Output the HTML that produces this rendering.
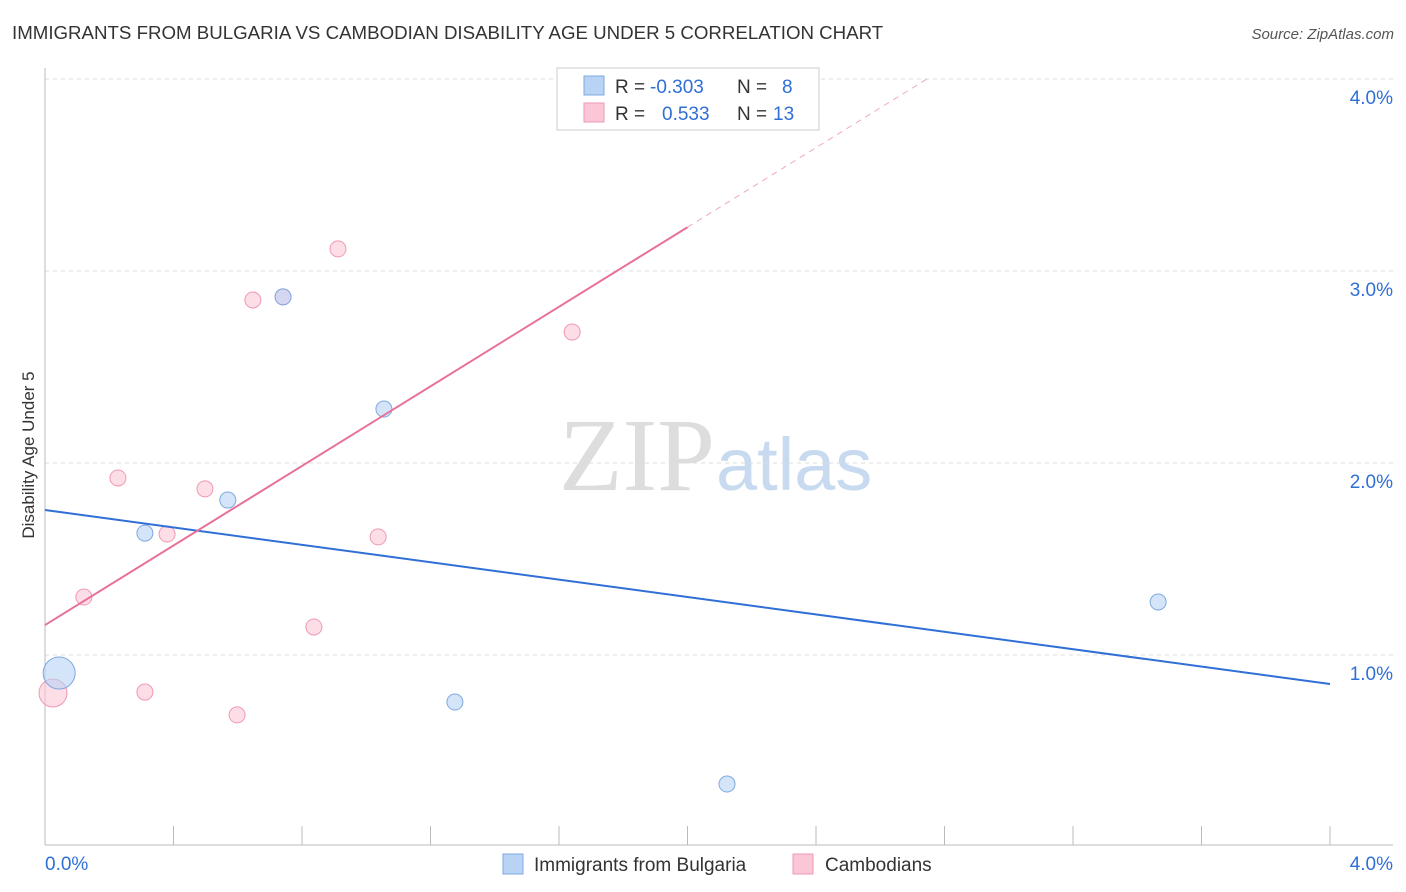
<!DOCTYPE html>
<html><head><meta charset="utf-8"><style>
body{margin:0;background:#fff;font-family:"Liberation Sans",sans-serif;}
svg{display:block}
</style></head><body>
<svg id="c" width="1406" height="892">
<text x="12" y="39" font-size="18.7" fill="#333">IMMIGRANTS FROM BULGARIA VS CAMBODIAN DISABILITY AGE UNDER 5 CORRELATION CHART</text>
<text x="1394" y="39" font-size="15" fill="#555" font-style="italic" text-anchor="end">Source: ZipAtlas.com</text>
<text x="715" y="490" font-size="104" fill="#ddd" text-anchor="end" font-family="Liberation Serif">ZIP</text>
<text x="716" y="490" font-size="74" fill="#c8daf0">atlas</text>
<text transform="translate(34,455) rotate(-90)" font-size="17" fill="#333" text-anchor="middle">Disability Age Under 5</text>
<g id="grid"></g><g id="marks"></g>
<g>
<rect x="557" y="68" width="262" height="62" fill="#fff" stroke="#ccc"/>
<rect x="584" y="76" width="20" height="19" fill="#b9d3f5" stroke="#7fa8e0"/>
<rect x="584" y="103" width="20" height="19" fill="#fbc7d6" stroke="#ee9ab3"/>
<g font-size="19">
<text x="615" y="93" fill="#333">R =</text>
<text x="650" y="93" fill="#2f6fd6">-0.303</text>
<text x="737" y="93" fill="#333">N =</text>
<text x="782" y="93" fill="#2f6fd6">8</text>
<text x="615" y="120" fill="#333">R =</text>
<text x="662" y="120" fill="#2f6fd6">0.533</text>
<text x="737" y="120" fill="#333">N =</text>
<text x="773" y="120" fill="#2f6fd6">13</text>
</g>
</g>
<g>
<rect x="503" y="854" width="20" height="20" fill="#b9d3f5" stroke="#7fa8e0"/>
<text x="534" y="871" font-size="19" fill="#333">Immigrants from Bulgaria</text>
<rect x="793" y="854" width="20" height="20" fill="#fbc7d6" stroke="#ee9ab3"/>
<text x="825" y="871" font-size="19" fill="#333">Cambodians</text>
</g>
</svg>
<script>
const blueX=[0.044,0.311,0.569,0.741,1.055,1.276,2.123,3.465];
const blueY=[0.906,1.635,1.807,2.865,2.281,0.755,0.328,1.276];
const blueR=[16,8,8,8,8,8,8,8];
const pinkX=[0.025,0.121,0.227,0.311,0.380,0.498,0.598,0.647,0.741,0.837,0.912,1.037,1.641];
const pinkY=[0.802,1.302,1.922,0.807,1.630,1.865,0.688,2.849,2.865,1.146,3.115,1.615,2.682];
const pinkR=[14,8,8,8,8,8,8,8,8,8,8,8,8];
const blueTrend=[1.755,-0.2265];
const pinkTrend=[1.156,1.036];
const yTicks=[1,2,3,4];
const yTickLabels=["1.0%","2.0%","3.0%","4.0%"];
const xTicks=[0,0.4,0.8,1.2,1.6,2.0,2.4,2.8,3.2,3.6,4.0];
const NS="http://www.w3.org/2000/svg";
const X=v=>45+v/4*1285, Y=v=>847-v*192;
const grid=document.getElementById('grid'),marks=document.getElementById('marks');
function el(t,a,p){const e=document.createElementNS(NS,t);for(const k in a)e.setAttribute(k,a[k]);p.appendChild(e);return e;}
yTicks.forEach((t,i)=>{
 const l=el('line',{x1:45,x2:1393,y1:Y(t),y2:Y(t),stroke:'#ddd','stroke-dasharray':'4,4'},grid);
 
 
 const tx=el('text',{x:1393,y:Y(t)+25,'font-size':19,fill:'#2f6fd6','text-anchor':'end'},grid);
 tx.textContent=yTickLabels[i];
 
 
});
const ax=el('line',{x1:45,x2:45,y1:68,y2:845,stroke:'#bbb'},grid);


const bx=el('line',{x1:45,x2:1393,y1:845,y2:845,stroke:'#bbb'},grid);


xTicks.forEach(t=>{
 const l=el('line',{x1:X(t),x2:X(t),y1:826,y2:845,stroke:'#bbb'},grid);
 
 
});
[[45,'start','0.0%'],[1393,'end','4.0%']].forEach(d=>{
 const tx=el('text',{x:d[0],y:870,'font-size':19,fill:'#2f6fd6','text-anchor':d[1]},grid);
 tx.textContent=d[2];
 
 
});
function dots(xs,ys,rs,fill,stroke,name){xs.forEach((x,i)=>{
 const c=el('circle',{cx:X(x),cy:Y(ys[i]),r:rs[i],fill:fill,stroke:stroke,'fill-opacity':0.6},marks);
 
 
});}
dots(pinkX,pinkY,pinkR,'#fbc7d6','#ee9ab3','cambodians-point');
dots(blueX,blueY,blueR,'#b9d3f5','#7fa8e0','bulgaria-point');
const bl=el('line',{x1:X(0),y1:Y(blueTrend[0]),x2:X(4),y2:Y(blueTrend[0]+4*blueTrend[1]),stroke:'#2f6fd6','stroke-width':2},marks);


const pl=el('line',{x1:X(0),y1:Y(pinkTrend[0]),x2:X(2),y2:Y(pinkTrend[0]+2*pinkTrend[1]),stroke:'#e8709a','stroke-width':2},marks);


const xe=(4.0-pinkTrend[0])/pinkTrend[1];
const pd=el('line',{x1:X(2),y1:Y(pinkTrend[0]+2*pinkTrend[1]),x2:X(xe),y2:Y(4.0),stroke:'#f0a8c0','stroke-width':1,'stroke-dasharray':'6,5'},marks);


</script>
</body></html>
